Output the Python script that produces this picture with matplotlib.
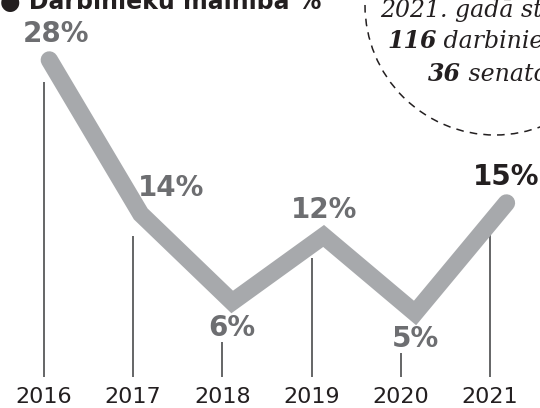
import matplotlib.pyplot as plt
from matplotlib.patches import Circle

# dati
gadi = ['2016', '2017', '2018', '2019', '2020', '2021']
mainiba = [28, 14, 6, 12, 5, 15]
etiketes = ['28%', '14%', '6%', '12%', '5%', '15%']
virs = [True, True, False, True, False, True]  # etikete virs vai zem punkta

virsraksts = '● Darbinieku mainība %'
apli_rindas = ['2021. gadā st', '116', ' darbinie', '36', ' senato']

pelēka = '#A7A9AC'
tumsi_pel = '#6D6E71'
melns = '#231F20'

fig = plt.figure(figsize=(5.4, 4.08), dpi=100)
ax = fig.add_axes([0, 0, 1, 1])
ax.set_xlim(-0.493, 5.561)
ax.set_ylim(-3.64, 33.45)
ax.axis('off')

x = list(range(len(gadi)))
# līnija nedaudz nobīdīta pa labi no gadu atzīmēm
x_linija = [i * 1.025 + 0.06 for i in x]

# vertikālās līnijas un gadi
for i, v, aug in zip(x, mainiba, virs):
    sak = v - 2 if aug else v - 3.6
    ax.plot([i, i], [-0.82, sak], color='#58595B', lw=1.3, solid_capstyle='butt')
    ax.text(i, -2.65, gadi[i], ha='center', va='center', fontsize=16,
            color=melns, family='DejaVu Sans')

# galvenā līnija
ax.plot(x_linija, mainiba, color=pelēka, lw=12.5,
        solid_capstyle='round', solid_joinstyle='miter')

# vērtību etiķetes
for i, (xi, v, et, aug) in enumerate(zip(x_linija, mainiba, etiketes, virs)):
    dx = 0
    if i == 0:
        dx = 7
    if i == 1:
        dx = 30
    dy = 26 if aug else -26
    krasa = melns if i == len(gadi) - 1 else tumsi_pel
    ax.annotate(et, (xi, v), xytext=(dx, dy), textcoords='offset pixels',
                ha='center', va='center', fontsize=20, fontweight='heavy',
                color=krasa, family='DejaVu Sans')

# pārklājums dekorācijām pikseļos
ov = fig.add_axes([0, 0, 1, 1])
ov.set_xlim(0, 540)
ov.set_ylim(408, 0)
ov.axis('off')
ov.patch.set_alpha(0)

ov.add_patch(Circle((495, 5), 130, fill=False, ec=melns, lw=1.1,
                    ls=(0, (5, 4))))

ov.text(0, 9, virsraksts, ha='left', va='baseline', fontsize=17,
        fontweight='bold', color=melns, family='DejaVu Sans')

serif = 'DejaVu Serif'
ov.text(380, 17, apli_rindas[0], ha='left', va='baseline', fontsize=17,
        style='italic', color=melns, family=serif)
t1 = ov.text(387, 48, apli_rindas[1], ha='left', va='baseline', fontsize=17,
             style='italic', fontweight='bold', color=melns, family=serif)
ov.annotate(apli_rindas[2], xy=(1, 0), xycoords=t1, va='bottom', ha='left',
            fontsize=17, style='italic', color=melns, family=serif)
t2 = ov.text(428, 81, apli_rindas[3], ha='left', va='baseline', fontsize=17,
             style='italic', fontweight='bold', color=melns, family=serif)
ov.annotate(apli_rindas[4], xy=(1, 0), xycoords=t2, va='bottom', ha='left',
            fontsize=17, style='italic', color=melns, family=serif)

fig.savefig('out.png', dpi=100)
